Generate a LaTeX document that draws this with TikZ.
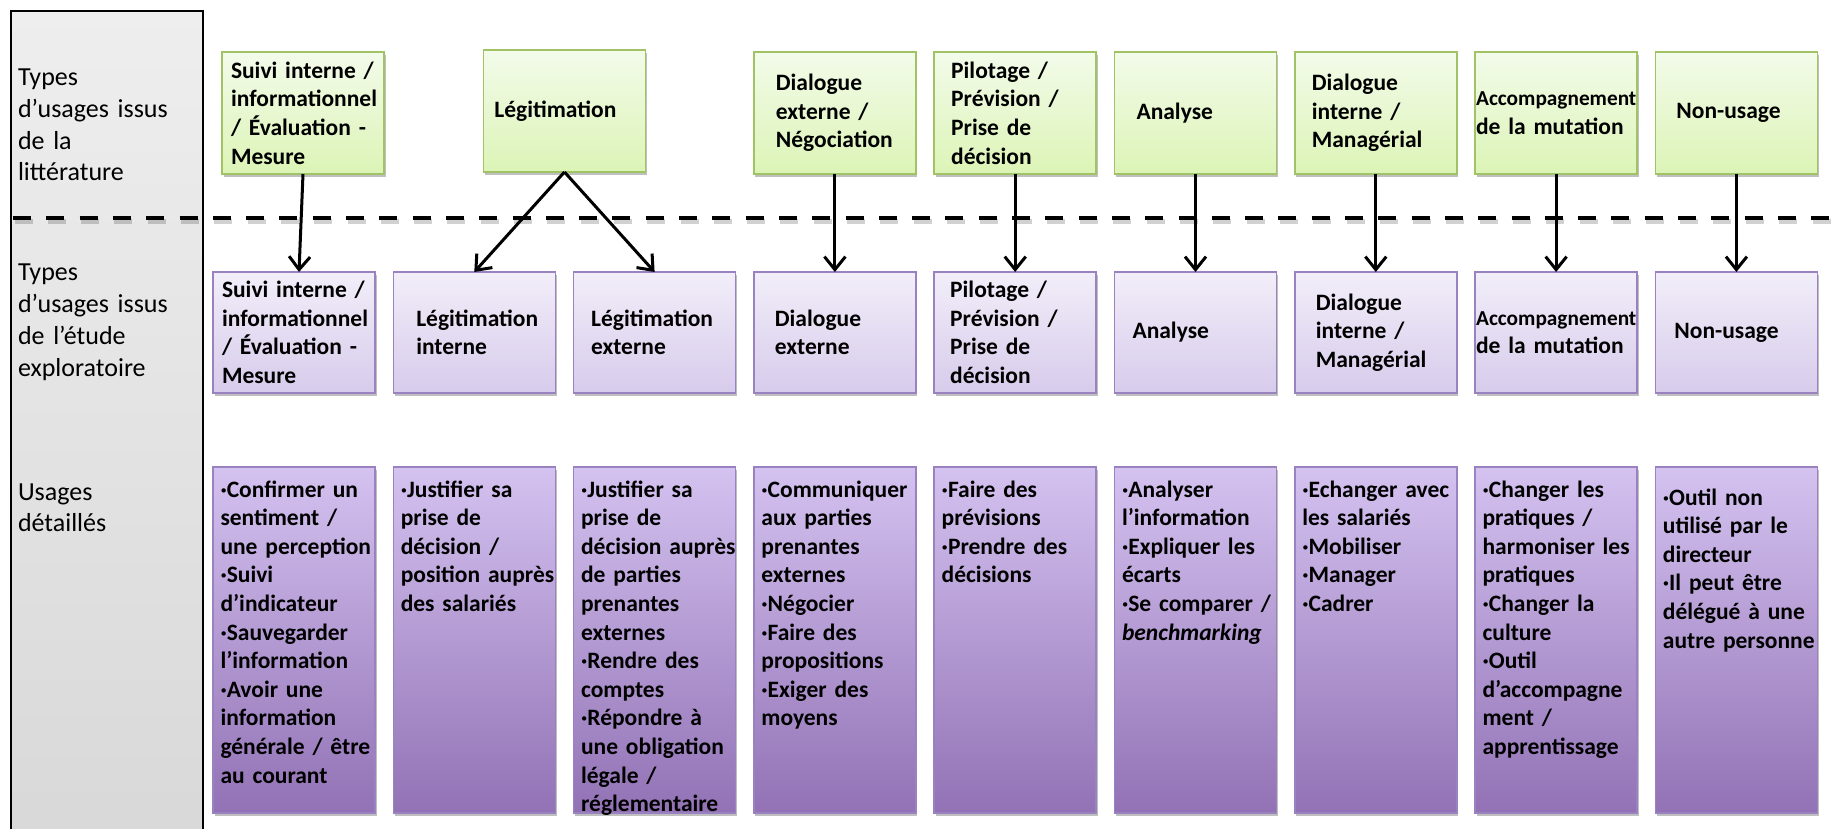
\documentclass[tikz,border=0pt]{standalone}
\usepackage{fontspec}
\setmainfont{Carlito}
\usepackage{xcolor}
\usepackage{tikz}
\usetikzlibrary{arrows.meta}
\usetikzlibrary{calc}
\usetikzlibrary{positioning}
\usetikzlibrary{shadows}

\definecolor{littop}{HTML}{F3FBEA}
\definecolor{litbot}{HTML}{DCF4B6}
\definecolor{litdraw}{HTML}{A2C266}
\definecolor{exptop}{HTML}{F2EEF9}
\definecolor{expbot}{HTML}{D7CBEB}
\definecolor{expdraw}{HTML}{9A81C0}
\definecolor{dettop}{HTML}{D4C2F0}
\definecolor{detbot}{HTML}{9272B5}
\definecolor{coltop}{HTML}{EEEEEE}
\definecolor{colbot}{HTML}{D8D8D8}

\newcommand{\boxfont}{\bfseries\fontsize{23.5}{28.6}\selectfont}
\newcommand{\sidefont}{\fontsize{26}{31.8}\selectfont}
\newcommand{\accfont}{\fontsize{21.3}{28.6}\selectfont}

\begin{document}
\begin{tikzpicture}[x=1pt, y=-1pt, node distance=18.3pt,
    ind/.style={execute at begin node={\leftskip=#1pt\rightskip=-30pt plus 1fil}}]
  \tikzstyle{every node}=[outer sep=0pt]
  \tikzstyle{cell}=[line width=1.5pt, minimum width=162pt, text width=162pt, inner xsep=0pt, align=left, font=\boxfont, drop shadow={shadow xshift=1.5pt, shadow yshift=-3pt, opacity=.25, fill=black}]
  \tikzstyle{lit}=[cell, draw=litdraw, top color=littop, bottom color=litbot, minimum height=122pt]
  \tikzstyle{exp}=[cell, draw=expdraw, top color=exptop, bottom color=expbot, minimum height=121pt]
  \tikzstyle{det}=[cell, draw=expdraw, top color=dettop, bottom color=detbot, inner ysep=0pt, text height=30pt, text depth=316pt, ind=7.5]
  \tikzstyle{side}=[anchor=base west, inner sep=0pt, text width=180pt, align=left, font=\sidefont]
  \tikzstyle{arr}=[draw, line width=3pt, -{Straight Barb[length=13pt, width=21pt]}]
  \useasboundingbox (0,0) rectangle (1836,829);

  \draw[line width=2pt, top color=coltop, bottom color=colbot] (11,11) rectangle (203,850);
  \node[side] (T1) at (18,85.6) {Types\\ d’usages issus\\ de la\\ littérature};
  \node[side] (T2) at (18,280.6) {Types\\ d’usages issus\\ de l’étude\\ exploratoire};
  \node[side] (T3) at (18,500) {Usages\\ détaillés};

  \draw[line width=5pt, dash pattern=on 18pt off 15.3pt, black, opacity=.18] (14.5,221.5) -- (1836,221.5);
  \draw[line width=4.5pt, dash pattern=on 18pt off 15.3pt] (13,218) -- (1836,218);

  \node[exp, ind=9] (P1) at (294,332.5) {Suivi interne /\\ informationnel\\ / Évaluation -\\ Mesure};
  \node[exp, ind=23] (P2) [right=of P1] {Légitimation\\ interne};
  \node[exp, ind=17.5] (P3) [right=of P2] {Légitimation\\ externe};
  \node[exp, ind=21] (P4) [right=of P3] {Dialogue\\ externe};
  \node[exp, ind=16] (P5) [right=of P4] {Pilotage /\\ Prévision /\\ Prise de\\ décision};
  \node[exp, ind=18] (P6) [right=of P5] {Analyse};
  \node[exp, ind=21] (P7) [right=of P6] {Dialogue\\ interne /\\ Managérial};
  \node[exp, ind=1] (P8) [right=of P7] {{\accfont Accompagnement}\\ de la mutation};
  \node[exp, ind=19] (P9) [right=of P8] {Non-usage};

  \coordinate (M) at ($(P2.north)!.5!(P3.north)$);
  \node[lit, ind=9] (G1) [above=98pt of P1, xshift=9pt] {Suivi interne /\\ informationnel\\ / Évaluation -\\ Mesure};
  \node[lit, ind=11] (G2) [above=100pt of M] {Légitimation};
  \node[lit, ind=22] (G3) [above=98pt of P4] {Dialogue\\ externe /\\ Négociation};
  \node[lit, ind=17] (G4) [above=98pt of P5] {Pilotage /\\ Prévision /\\ Prise de\\ décision};
  \node[lit, ind=22] (G5) [above=98pt of P6] {Analyse};
  \node[lit, ind=17] (G6) [above=98pt of P7] {Dialogue\\ interne /\\ Managérial};
  \node[lit, ind=1] (G7) [above=98pt of P8] {{\accfont Accompagnement}\\ de la mutation};
  \node[lit, ind=21] (G8) [above=98pt of P9] {Non-usage};

  \node[det] (D1) [below=74pt of P1] {·Confirmer un\\ sentiment /\\ une perception\\ ·Suivi\\ d’indicateur\\ ·Sauvegarder\\ l’information\\ ·Avoir une\\ information\\ générale / être\\ au courant};
  \node[det] (D2) [below=74pt of P2] {·Justifier sa\\ prise de\\ décision /\\ position auprès\\ des salariés};
  \node[det] (D3) [below=74pt of P3] {·Justifier sa\\ prise de\\ décision auprès\\ de parties\\ prenantes\\ externes\\ ·Rendre des\\ comptes\\ ·Répondre à\\ une obligation\\ légale /\\ réglementaire};
  \node[det] (D4) [below=74pt of P4] {·Communiquer\\ aux parties\\ prenantes\\ externes\\ ·Négocier\\ ·Faire des\\ propositions\\ ·Exiger des\\ moyens};
  \node[det] (D5) [below=74pt of P5] {·Faire des\\ prévisions\\ ·Prendre des\\ décisions};
  \node[det] (D6) [below=74pt of P6] {·Analyser\\ l’information\\ ·Expliquer les\\ écarts\\ ·Se comparer /\\ \textit{benchmarking}};
  \node[det] (D7) [below=74pt of P7] {·Echanger avec\\ les salariés\\ ·Mobiliser\\ ·Manager\\ ·Cadrer};
  \node[det] (D8) [below=74pt of P8] {·Changer les\\ pratiques /\\ harmoniser les\\ pratiques\\ ·Changer la\\ culture\\ ·Outil\\ d’accompagne\\ ment /\\ apprentissage};
  \node[det, text height=38pt, text depth=308pt] (D9) [below=74pt of P9] {·Outil non\\ utilisé par le\\ directeur\\ ·Il peut être\\ délégué à une\\ autre personne};

  \path
    (G1.south) edge[arr] ([xshift=5pt]P1.north)
    (G2.south) edge[arr] (P2.north)
    (G2.south) edge[arr] (P3.north)
    (G3.south) edge[arr] (P4.north)
    (G4.south) edge[arr] (P5.north)
    (G5.south) edge[arr] (P6.north)
    (G6.south) edge[arr] (P7.north)
    (G7.south) edge[arr] (P8.north)
    (G8.south) edge[arr] (P9.north);
\end{tikzpicture}
\end{document}
